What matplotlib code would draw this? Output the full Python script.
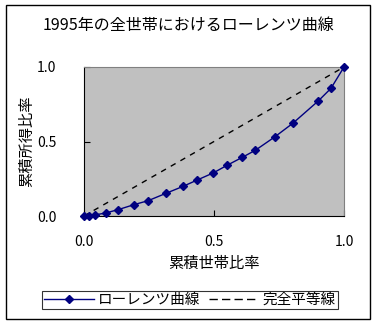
import matplotlib
matplotlib.use("Agg")
import matplotlib.pyplot as plt
from matplotlib.patches import Rectangle

plt.rcParams['font.family'] = ['Noto Sans CJK JP', 'DejaVu Sans']

# 累積世帯比率 / 累積所得比率
cum_households = [0.0, 0.021, 0.041, 0.083, 0.132, 0.192, 0.247, 0.315, 0.381,
                  0.436, 0.497, 0.550, 0.609, 0.659, 0.733, 0.803, 0.901, 0.950, 1.0]
cum_income = [0.0, 0.0, 0.007, 0.020, 0.043, 0.076, 0.103, 0.152, 0.199,
              0.242, 0.289, 0.340, 0.394, 0.441, 0.530, 0.622, 0.772, 0.857, 1.0]
equal_line = [0.0, 1.0]
ticks = [0.0, 0.5, 1.0]
tick_labels = ['0.0', '0.5', '1.0']

fig = plt.figure(figsize=(3.76, 3.25), dpi=100)
ax = fig.add_axes([84/376, 1 - 216/325, 260/376, 149/325])
ax.set_facecolor('#C0C0C0')

ax.plot(cum_households, cum_income, color='#000080', lw=1, marker='D',
        markersize=4.5, label='ローレンツ曲線', clip_on=False, zorder=3)
ax.plot(equal_line, equal_line, color='black', lw=1, ls=(0, (4, 4)),
        label='完全平等線', zorder=2)

ax.set_xlim(0, 1)
ax.set_ylim(0, 1)
ax.set_xticks(ticks)
ax.set_xticklabels(tick_labels)
ax.set_yticks(ticks)
ax.set_yticklabels(tick_labels)
ax.tick_params(direction='in', length=4, width=0.8, labelsize=10)
ax.tick_params(axis='y', pad=20)
ax.tick_params(axis='x', pad=14)
for s in ax.spines.values():
    s.set_color('#808080')
    s.set_linewidth(0.8)
ax.spines['left'].set_color('black')
ax.spines['bottom'].set_color('black')

ax.set_xlabel('累積世帯比率', fontsize=11, labelpad=4)
ax.set_ylabel('累積所得比率', fontsize=11, labelpad=1)
fig.text(188/376, 1 - 25/325, '1995年の全世帯におけるローレンツ曲線',
         ha='center', va='center', fontsize=11.5)

leg = fig.legend(loc='center', bbox_to_anchor=(190/376, 1 - 300/325), ncol=2,
                 fontsize=10.5, frameon=True, fancybox=False, borderpad=0.15,
                 handlelength=3.4, handletextpad=0.3, columnspacing=0.6,
                 borderaxespad=0)
leg.get_frame().set_edgecolor('black')
leg.get_frame().set_linewidth(0.8)
leg.get_lines()[1].set_linestyle((0, (6, 3)))

fig.patches.append(Rectangle((6/376, 1 - 319/325), 364/376, 314/325,
                             transform=fig.transFigure, fill=False,
                             edgecolor='black', lw=1))

fig.savefig('out.png', dpi=100)
